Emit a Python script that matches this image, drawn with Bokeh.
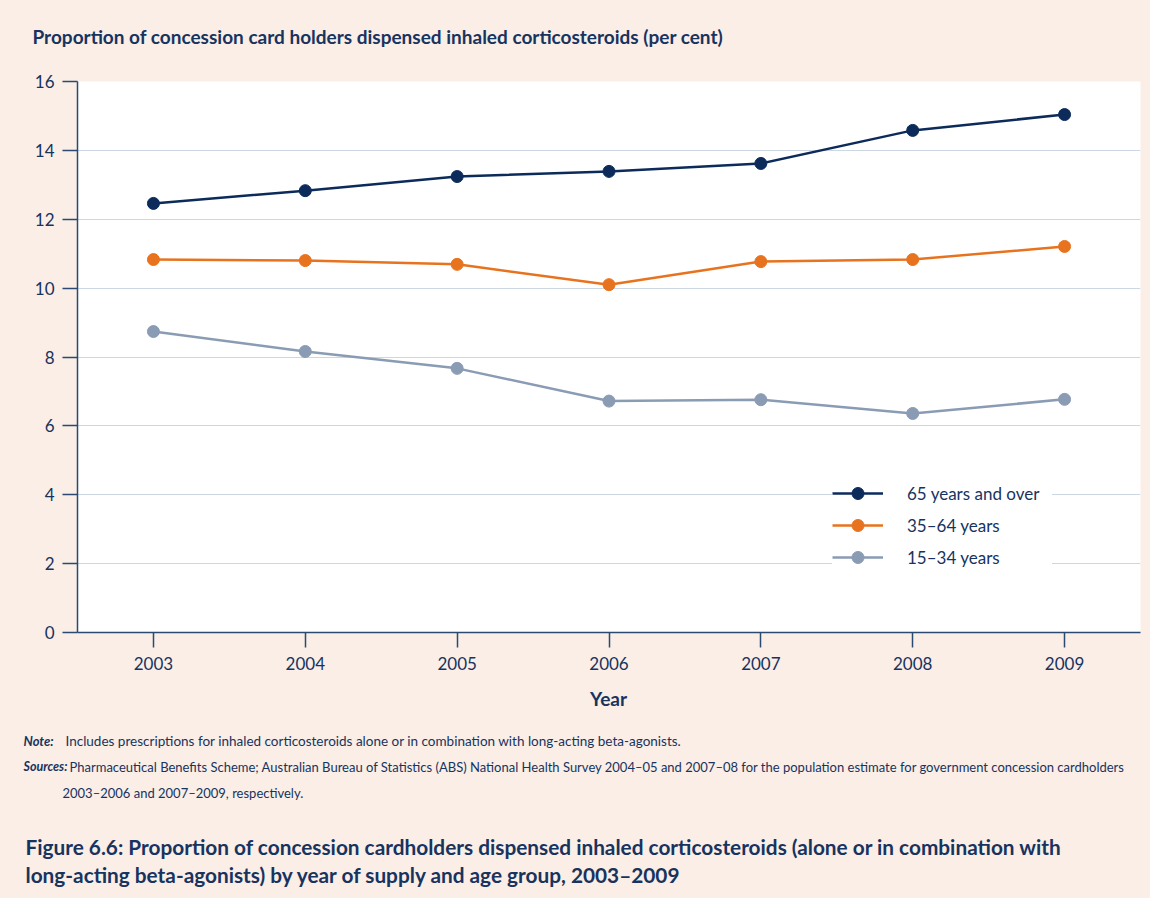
from bokeh.plotting import figure
from bokeh.models import Legend, LegendItem, FixedTicker, Range1d
from bokeh.layouts import column
from bokeh.core.properties import value
from bokeh.embed import file_html
from bokeh.resources import INLINE

years = [2003, 2004, 2005, 2006, 2007, 2008, 2009]
age_65_over = [12.46, 12.83, 13.24, 13.39, 13.62, 14.58, 15.04]
age_35_64 = [10.83, 10.80, 10.69, 10.10, 10.77, 10.83, 11.21]
age_15_34 = [8.74, 8.16, 7.67, 6.72, 6.76, 6.36, 6.77]
series_names = ["65 years and over", "35\u201364 years", "15\u201334 years"]
y_ticks = [0, 2, 4, 6, 8, 10, 12, 14, 16]

chart_title = "Proportion of concession card holders dispensed inhaled corticosteroids (per cent)"
x_title = "Year"
note_head = "Note:"
note_text = "Includes prescriptions for inhaled corticosteroids alone or in combination with long-acting beta-agonists."
src_head = "Sources:"
src_line1 = ("Pharmaceutical Benefits Scheme; Australian Bureau of Statistics (ABS) National Health Survey "
             "2004\u201305 and 2007\u201308 for the population estimate for government concession cardholders")
src_line2 = "2003\u20132006 and 2007\u20132009, respectively."
caption1 = ("Figure 6.6: Proportion of concession cardholders dispensed inhaled corticosteroids "
            "(alone or in combination with")
caption2 = "long-acting beta-agonists) by year of supply and age group, 2003\u20132009"

FONT = "Lato"
NAVY_TXT = "#17335F"
PEACH = "#FAEEE6"
colors = ["#0C2B5B", "#E8731E", "#8A9BB4"]
W = 1150


def no_align(f):
    if "frame_align" in f.properties():
        f.frame_align = False


def text_fig(h):
    f = figure(width=W, height=h, output_backend="svg", toolbar_location=None,
               x_range=Range1d(0, W), y_range=Range1d(h, 0),
               x_axis_type=None, y_axis_type=None, min_border=0)
    f.background_fill_color = PEACH
    f.border_fill_color = PEACH
    f.outline_line_color = None
    no_align(f)
    return f


def put(f, x, y, txt, size, style="normal", align="left"):
    f.text(x=[x], y=[y], text=[txt], text_font=value(FONT), text_font_size=size,
           text_font_style=style, text_color=NAVY_TXT, text_align=align,
           text_baseline="middle")


# --- top: chart title
top = text_fig(70)
put(top, 32, 36, chart_title, "19px", "bold")

# --- main chart
p = figure(width=W, height=612, output_backend="svg", toolbar_location=None,
           x_range=Range1d(2002.5, 2009.5), y_range=Range1d(0, 16),
           min_border_left=77, min_border_top=11, min_border_right=10, min_border_bottom=50)
no_align(p)
p.border_fill_color = PEACH
p.background_fill_color = "white"
p.outline_line_color = None
p.xgrid.grid_line_color = None
p.ygrid.grid_line_color = "#CDD6E3"
p.ygrid.grid_line_width = 1

for ax in (p.xaxis[0], p.yaxis[0]):
    ax.axis_line_color = "#2B4A72"
    ax.axis_line_width = 1.5
    ax.major_tick_line_color = "#2B4A72"
    ax.major_tick_line_width = 1.5
    ax.major_tick_out = 15
    ax.major_tick_in = 0
    ax.minor_tick_line_color = None
    ax.major_label_text_font = FONT
    ax.major_label_text_font_size = "17px"
    ax.major_label_text_color = NAVY_TXT

p.xaxis.ticker = FixedTicker(ticks=years)
p.yaxis.ticker = FixedTicker(ticks=y_ticks)
p.xaxis.major_label_standoff = 9
p.yaxis.major_label_standoff = 8

items = []
for vals, name, col in zip([age_65_over, age_35_64, age_15_34], series_names, colors):
    r1 = p.line(years, vals, line_color=col, line_width=2.5)
    r2 = p.scatter(years, vals, size=12, fill_color=col, line_color=col)
    items.append(LegendItem(label=name, renderers=[r1, r2]))

legend = Legend(items=items, location=(755, 60), padding=20, spacing=2,
                glyph_width=51, glyph_height=30, label_height=30, label_standoff=24,
                label_width=145,
                label_text_font=FONT, label_text_font_size="17px", label_text_color=NAVY_TXT,
                background_fill_color="white", background_fill_alpha=1.0,
                border_line_color=None, margin=0)
p.add_layout(legend)

# --- bottom: axis title, notes, caption
bot = text_fig(216)
put(bot, 608, 16, x_title, "19px", "bold", "center")
put(bot, 23, 58, note_head, "13px", "bold italic")
put(bot, 65, 58, note_text, "13.5px")
put(bot, 23, 84, src_head, "12.5px", "bold italic")
put(bot, 69, 84, src_line1, "13px")
put(bot, 62, 110, src_line2, "13px")
put(bot, 25, 164, caption1, "20.8px", "bold")
put(bot, 25, 192, caption2, "20.8px", "bold")

layout = column(top, p, bot, spacing=0)
layout.styles = {"background-color": PEACH}

open("out.html", "w").write(file_html(layout, INLINE))
